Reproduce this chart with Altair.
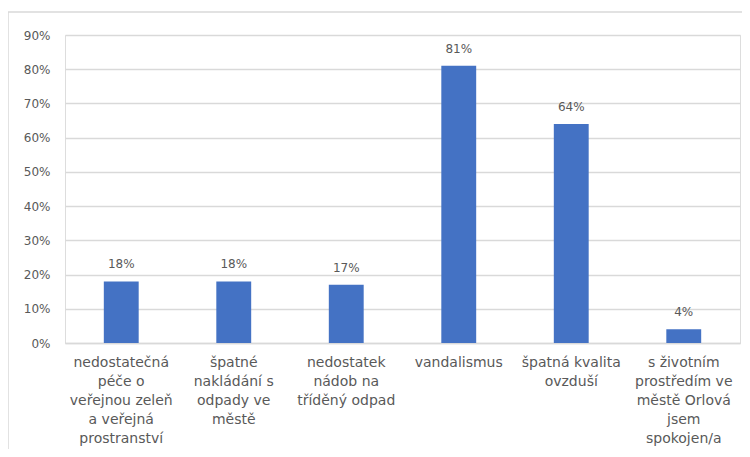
import altair as alt
import pandas as pd

categories = [
    "nedostatečná\npéče o\nveřejnou zeleň\na veřejná\nprostranství",
    "špatné\nnakládání s\nodpady ve\nměstě",
    "nedostatek\nnádob na\ntříděný odpad",
    "vandalismus",
    "špatná kvalita\novzduší",
    "s životním\nprostředím ve\nměstě Orlová\njsem\nspokojen/a",
]
values = [0.18, 0.18, 0.17, 0.81, 0.64, 0.04]
y_ticks = [0, 0.1, 0.2, 0.3, 0.4, 0.5, 0.6, 0.7, 0.8, 0.9]

df = pd.DataFrame({"cat": categories, "val": values})

FONT = "DejaVu Sans"

x_enc = alt.X(
    "cat:N",
    sort=categories,
    title=None,
    scale=alt.Scale(paddingInner=0.69, paddingOuter=0.345),
    axis=alt.Axis(
        labelExpr="split(datum.label, '\\n')",
        labelAngle=0,
        labelLimit=0,
        labelLineHeight=19,
        labelFontSize=14,
        labelColor="#595959",
        labelFont=FONT,
        labelPadding=12,
        labelBaseline="top",
        labelOverlap=False,
        ticks=False,
        domainColor="#D9D9D9",
        domainWidth=1.5,
        grid=False,
    ),
)
y_enc = alt.Y(
    "val:Q",
    title=None,
    scale=alt.Scale(domain=[0, 0.9], nice=False),
    axis=alt.Axis(
        values=y_ticks,
        tickCount=10,
        format=".0%",
        labelFontSize=12,
        labelColor="#595959",
        labelFont=FONT,
        labelPadding=15,
        labelOverlap=False,
        ticks=False,
        domain=False,
        gridColor="#D9D9D9",
        gridWidth=1.5,
    ),
)

base = alt.Chart(df)
bars = base.mark_bar(color="#4472C4").encode(x=x_enc, y=y_enc)
labels = base.mark_text(
    baseline="bottom", dy=-10, fontSize=12, color="#595959", font=FONT
).encode(x=alt.X("cat:N", sort=categories), y="val:Q", text=alt.Text("val:Q", format=".0%"))

frame = alt.Chart(pd.DataFrame({"a": [0]})).mark_rect(
    fill=None, stroke="#D9D9D9", strokeWidth=1.5, clip=False
).encode(
    x=alt.value(-57), x2=alt.value(800), y=alt.value(-23), y2=alt.value(500)
)

chart = (
    alt.layer(frame, bars, labels)
    .properties(
        width=675,
        height=308,
        autosize=alt.AutoSizeParams(type="none"),
        padding={"left": 57, "top": 27, "right": 2, "bottom": 106},
    )
    .configure_view(stroke=None)
    .configure(background="white")
)

chart.save("out.html", embed_options={"renderer": "svg", "actions": False})
